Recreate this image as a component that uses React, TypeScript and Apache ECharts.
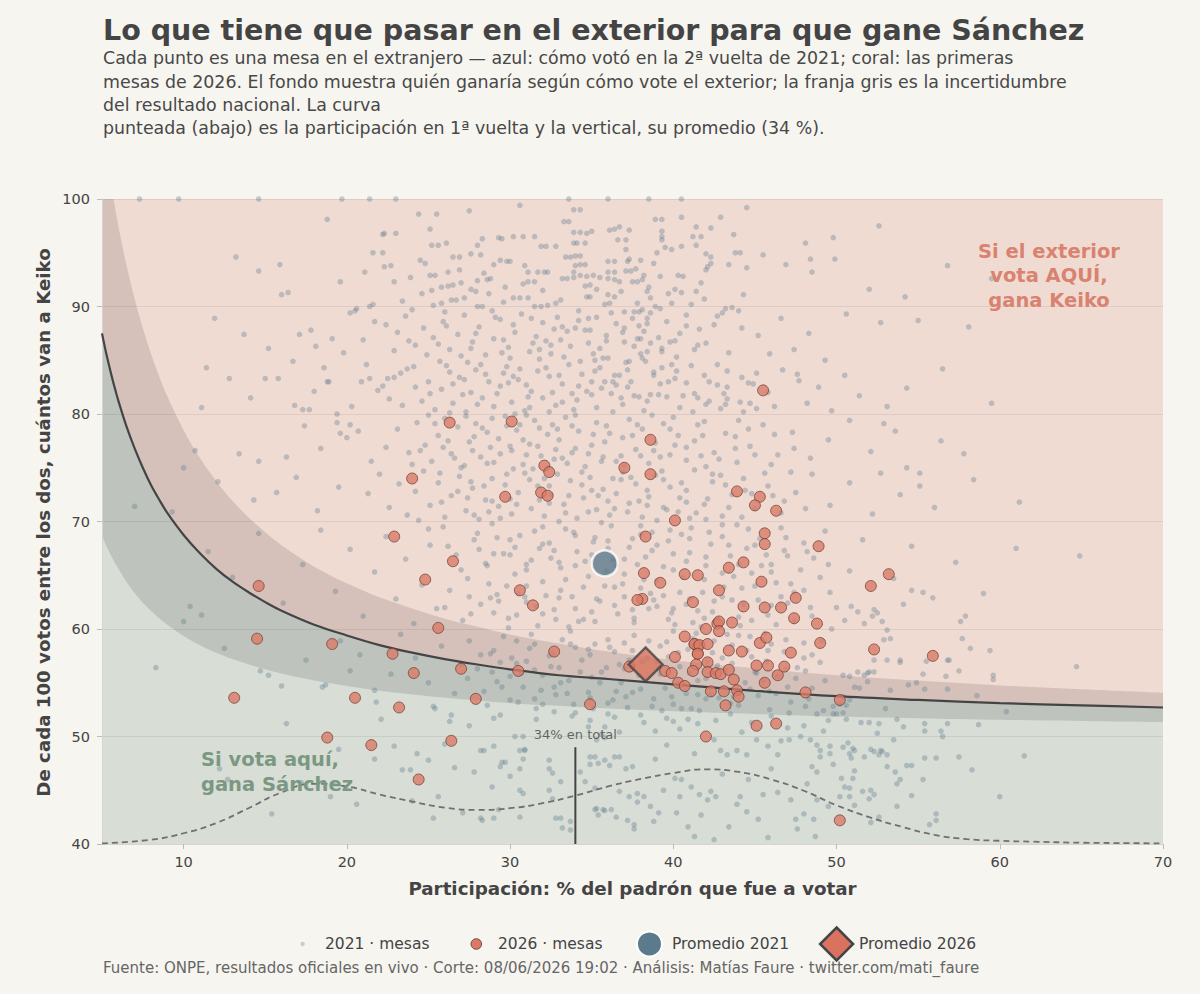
import React, { useEffect, useRef } from "react";
import * as echarts from "echarts";

// ---------- Datos ----------
const ejeX = [5, 5.25, 5.5, 5.75, 6, 6.5, 7, 7.5, 8, 8.5, 9, 10, 11, 12, 13, 14, 15, 16, 18, 20, 22, 24, 26, 28, 30, 33, 36, 40, 45, 50, 55, 60, 65, 70];
const umbral = [87.5, 85.7, 84.1, 82.6, 81.25, 78.85, 76.8, 75.0, 73.4, 72.05, 70.8, 68.75, 67.05, 65.6, 64.4, 63.4, 62.5, 61.7, 60.4, 59.4, 58.5, 57.8, 57.2, 56.7, 56.25, 55.7, 55.35, 54.85, 54.25, 53.75, 53.4, 53.1, 52.9, 52.7];
const bandaSup = [107, 104.3, 101.8, 99.6, 97.5, 93.85, 90.7, 88.0, 85.6, 83.5, 81.65, 78.5, 75.9, 73.75, 71.9, 70.35, 69.0, 67.8, 65.8, 64.25, 62.95, 61.9, 60.95, 60.2, 59.5, 58.65, 57.9, 57.1, 56.35, 55.7, 55.2, 54.75, 54.4, 54.07];
const bandaInf = [68.7, 67.8, 67.0, 66.25, 65.6, 64.4, 63.35, 62.45, 61.7, 61.0, 60.4, 59.35, 58.5, 57.8, 57.2, 56.7, 56.25, 55.85, 55.2, 54.7, 54.25, 53.9, 53.6, 53.35, 53.1, 52.85, 52.6, 52.35, 52.1, 51.85, 51.7, 51.55, 51.45, 51.35];

const partX = [5, 8, 10, 12, 14, 16, 18, 20, 22, 24, 26, 28, 30, 32, 34, 36, 38, 40, 42, 44, 46, 48, 50, 52, 54, 56, 58, 60, 62, 65, 70];
const partY = [40.06, 40.4, 41.0, 41.95, 43.35, 44.8, 45.6, 45.35, 44.6, 43.95, 43.38, 43.17, 43.33, 43.8, 44.5, 45.35, 46.05, 46.6, 46.95, 46.7, 46.0, 44.95, 43.6, 42.5, 41.6, 40.85, 40.45, 40.3, 40.22, 40.12, 40.06];
const participacionPromedio = 34;
const topeLineaPromedio = 49;

const promedio2021 = [35.8, 66.1];
const promedio2026 = [38.3, 56.7];

const mesas2021Alto = [
  [7.3,100],[9.7,100],[14.6,100],[19.7,100],[21.4,100],[23.0,100],[33.6,100],[36.0,100],[38.5,100],[40.5,100],
  [24.4,98.6],[25.5,98.6],[33.9,99.0],[34.3,99.0],[33.3,97.9],[33.6,97.9],[38.9,98.1],[39.3,98.1],[40.5,98.3],[42.9,98.3],[18.8,98.1],
  [25.1,97.2],[22.3,96.8],[23.0,96.8],[25.2,95.7],[25.6,95.7],[26.1,95.9],[33.9,96.9],[34.3,96.9],[34.7,96.8],[35.0,97.0],[36.1,97.1],[36.4,97.2],[36.7,97.4],[37.3,97.1],[39.3,97.0],[39.3,96.5],[39.3,96.2],[41.2,96.5],[41.4,97.4],[41.7,96.5],[42.3,97.3],[43.7,96.7],[48.1,95.9],[49.8,96.4],[28.0,95.7],[28.3,96.3],[29.3,96.4],[29.5,96.3],[30.2,96.5],[30.8,96.5],[31.5,96.5],[31.9,95.6],[32.2,95.6],[32.8,95.6],[33.9,95.9],[34.1,95.9],[34.6,95.9],[36.6,96.2],[37.1,96.2],[37.1,95.3],[39.5,95.5],[39.9,95.3],[40.5,95.6],[41.4,95.7],[22.2,96.7],[44.5,99.2],[52.6,97.5],[27.5,98.9],[30.6,99.4],
  [39.0,95.0],[42.0,94.9],[42.3,94.6],[43.8,95.0],[44.1,95.0],[45.5,94.8],[48.4,94.4],[48.5,93.2],[49.9,94.4],[46.9,93.9],[44.5,93.6],[43.4,93.9],[42.3,94.0],[42.0,93.4],[42.1,93.7],[41.7,92.2],[41.4,91.4],[40.3,92.9],[40.6,92.8],[40.1,91.6],[40.5,91.3],[39.2,92.8],[38.8,94.0],
  [38.2,92.9],[38.1,92.5],[37.8,92.3],[37.5,92.3],[37.1,93.3],[37.4,93.3],[37.7,93.5],[38.0,94.3],[38.5,91.8],[38.4,91.4],[38.6,90.8],
  [36.8,91.4],[36.0,91.1],[34.7,90.9],[34.9,90.9],[34.6,91.9],[34.9,92.0],
  [36.0,92.6],[36.4,92.5],[36.7,92.3],[36.0,93.2],[36.4,93.2],[36.0,94.2],[36.4,94.2],[37.2,94.2],[37.3,94.4],
  [34.3,92.9],[34.7,92.8],[35.1,92.9],[35.5,92.7],[33.9,92.7],[33.5,92.6],[33.2,92.6],
  [33.4,94.6],[33.7,94.6],[34.0,94.7],[34.3,94.7],[34.0,93.8],[34.3,93.9],[34.6,93.9],[33.9,93.2],
  [30.8,92.1],[31.1,92.3],[31.5,92.3],[31.1,93.2],[31.7,93.2],[32.1,93.2],[32.3,93.2],
  [29.4,94.3],[29.8,94.2],[30.0,94.2],[29.0,93.9],[28.2,94.8],[27.6,94.9],[26.9,94.6],[26.5,94.6],[24.5,94.3],[24.8,94.0],[22.3,93.7],[22.7,93.8],[22.9,92.3],[23.9,92.7],
  [25.1,92.9],[25.4,92.9],[26.2,93.2],[26.9,93.4],[25.8,91.8],[26.2,91.9],[26.5,92.0],[25.2,91.5],[28.0,92.4],[28.6,92.5],[28.8,92.6],[27.6,91.6],[27.9,91.4],[28.7,91.2],
  [30.2,90.8],[30.6,90.8],[31.1,90.8],[29.6,90.4],[25.3,90.1],[25.8,90.3],[26.4,90.6],[26.7,90.6],[27.2,90.8],[28.0,90.0],[28.3,90.0],[31.5,90.0],[31.9,90.0],[32.3,90.1],[32.8,90.3],[35.8,90.2],[36.1,90.3],[37.8,90.3],[37.0,89.5],[37.6,89.5],[37.9,89.5],[38.9,90.0],[39.9,90.3],[41.1,90.2],[44.3,91.1],
  [13.2,94.6],[14.6,93.3],[15.9,93.9],[16.0,91.1],[16.4,91.3],[19.6,92.3],[21.1,93.2],[21.6,95.0],[22.2,95.0],[56.8,93.8],[59.5,92.6],[52.0,91.6],[54.2,90.9],
  [38.1,89.7],[38.4,88.9],[38.4,88.4],[42.7,89.1],[43.0,89.4],[43.2,89.8],[43.6,89.9],[44.0,89.6],[44.2,88.0],[41.3,86.0],[42.0,86.6],[39.8,86.7],[39.3,86.1],[38.4,85.8],[38.0,85.6],[37.6,86.3],[37.8,87.0],[38.0,87.0],[38.2,87.7],
  [37.0,86.7],[35.5,86.1],[35.7,85.2],[35.1,85.6],[34.6,87.8],[34.9,87.8],[34.2,88.7],[34.0,88.0],[33.5,87.7],[43.4,85.7],[49.3,85.0],[39.3,85.8],[40.1,86.8],[38.6,86.6],[36.0,85.2],
  [13.7,87.4],[15.2,86.1],[17.1,87.4],[17.8,87.8],[18.1,86.3],[19.1,87.0],[20.5,89.6],[20.6,89.8],[21.4,90.0],[21.6,90.2],[20.2,89.4],
  [55.0,88.7],[58.1,88.1],[52.7,88.5],
  [22.4,88.3],[23.1,87.6],[23.6,89.1],[24.2,86.4],[24.7,88.0],[25.3,87.1],[25.9,88.6],[26.3,86.0],[26.8,87.4],[27.2,89.2],[27.7,86.7],[28.1,88.1],[28.5,85.5],[29.0,87.0],[29.4,88.8],[29.9,86.2],[30.3,87.6],[30.7,89.3],[31.2,85.8],[31.6,87.2],[32.0,88.5],[32.5,86.4],[32.9,89.0],[33.3,85.3],[22.9,85.9],[23.8,86.8],[24.9,85.5],[26.0,89.5],[27.0,85.4],[28.9,89.6],[30.0,85.2],[31.8,86.0],[32.7,87.9],[24.0,89.7],[25.6,86.5],[27.9,87.5],[29.6,86.9],[31.3,88.9],[33.1,86.9],[36.5,88.4],[35.3,89.0],[36.9,87.6],[39.6,88.6],[40.8,89.2],[41.6,87.9],[42.5,88.3],[45.2,87.3],[46.6,88.9],[47.4,86.0],[45.9,85.6],[48.3,87.5],[50.6,89.3],[19.8,85.7],[21.0,86.9],[21.7,88.6],[11.9,88.9]
];

const mesas2021MedioAlto = [
  [43.3,84.0],[42.7,84.6],[42.7,82.7],[43.3,82.5],[44.6,82.9],[44.9,82.8],[45.1,83.8],[46.2,80.7],[47.6,83.7],[47.7,83.1],[48.2,81.0],[44.1,81.1],[43.3,81.4],[43.1,81.9],[42.9,80.5],[44.7,81.0],[45.1,80.5],[44.3,80.2],[41.3,81.9],[41.5,81.5],[40.8,82.9],[40.1,83.3],[39.6,81.6],[39.1,81.8],[38.6,81.8],[37.9,81.6],[37.6,81.7],[38.4,81.2],[39.3,84.3],[38.8,83.6],[38.8,83.9],[37.2,84.1],[37.3,84.9],[36.4,83.6],[36.7,83.6],[36.3,83.0],[36.5,82.7],[35.5,84.3],[35.2,84.0],[35.8,83.0],[35.0,83.0],[35.0,81.8],[34.7,82.1],
  [54.3,82.4],[53.1,80.7],[52.9,79.1],[59.5,81.0],[56.4,77.5],[54.3,75.0],[55.1,74.5],[55.1,73.3],[52.7,74.5],
  [11.4,84.3],[12.8,83.3],[15.0,83.3],[15.8,83.3],[11.1,80.6],[10.7,76.6],[10.0,75.0],[7.0,71.4],[13.4,76.3],[14.6,75.6],[15.7,72.7],[16.3,76.0],[16.8,80.8],[17.3,80.4],[17.7,80.4],[16.7,84.9],[18.6,84.3],[18.8,83.0],[18.9,83.0],[19.4,80.0],[19.4,79.2],[19.6,78.2],[20.0,77.8],[20.2,79.0],[20.3,80.7],[20.9,83.0],[21.4,83.3],[21.9,82.2],[22.2,82.6],[22.5,83.3],[22.9,83.4],[23.3,83.8],[23.7,84.2],[24.1,84.4],
  [24.6,81.2],[25.0,83.0],[25.4,80.4],[25.8,82.3],[26.1,84.5],[26.5,81.0],[26.9,83.4],[27.3,80.2],[27.6,82.0],[27.9,84.1],[28.3,81.5],[28.7,83.0],[29.0,80.7],[29.4,82.6],[29.8,84.4],[30.1,81.1],[30.5,83.2],[30.9,80.3],[31.3,82.1],[31.7,84.0],[32.0,81.5],[32.4,83.5],[32.8,80.8],[33.2,82.8],[33.6,84.6],[34.1,81.3],[34.4,83.7],[24.2,82.5],[26.3,83.9],[28.0,80.9],[29.6,83.8],[31.0,82.7],[32.6,82.0],[33.9,80.4],[36.9,80.9],[37.4,83.0],[39.9,84.6],[40.4,80.6],[41.9,83.6],[42.2,81.2],[45.8,82.0],[46.7,84.1],[48.9,82.5],[49.7,80.3],[50.5,83.6],[51.4,81.7],[25.7,84.9],[27.1,81.8],[30.3,80.0],[23.4,80.8],[22.6,81.4],[21.2,84.6],[18.0,82.1],[14.1,81.5],[56.5,84.2],
  [23.1,78.6],[23.8,76.4],[24.3,79.2],[24.8,77.1],[25.2,75.6],[25.6,78.0],[26.0,79.6],[26.4,76.3],[26.8,78.8],[27.2,75.2],[27.5,77.4],[27.9,79.1],[28.2,76.0],[28.6,78.3],[29.0,75.5],[29.3,77.7],[29.7,79.8],[30.1,76.6],[30.4,78.5],[30.8,75.3],[31.2,77.2],[31.5,79.4],[31.9,76.1],[32.3,78.1],[32.7,75.8],[33.0,77.6],[33.4,79.7],[33.8,76.4],[34.2,78.4],[34.6,75.1],[35.0,77.1],[35.3,79.2],[35.7,76.0],[36.1,78.2],[36.5,75.6],[36.9,77.8],[37.3,79.5],[37.7,76.7],[38.1,78.6],[38.5,75.4],[38.9,77.3],[39.4,79.1],[39.8,76.2],[40.3,78.0],[40.8,75.7],[41.3,77.5],[41.9,79.3],[42.5,76.4],[43.2,78.2],[43.9,75.5],[44.7,77.0],[45.5,79.0],[46.4,76.2],[47.3,78.3],[48.4,75.9],[49.5,77.6],[50.8,79.4],[52.1,76.5],[53.6,78.4],[22.4,76.9],[21.5,75.6],[20.7,78.4],[18.4,76.8],[17.4,78.9],[25.0,79.9],[28.9,79.6],[31.0,79.9],[34.0,79.9],[37.0,75.2],[40.0,79.7],[42.0,75.1],[27.7,76.6],[30.0,77.0],[32.6,79.0],[35.9,78.9],[39.2,76.0],[24.0,75.3],[33.5,75.4],[44.0,79.4],[46.0,75.3],[57.8,76.3],
  [21.3,72.6],[22.0,74.4],[22.6,71.3],[23.2,73.5],[23.7,70.6],[24.2,72.8],[24.7,74.7],[25.1,71.5],[25.6,73.6],[26.0,70.4],[26.4,72.4],[26.9,74.2],[27.3,71.0],[27.7,73.1],[28.1,70.2],[28.5,72.0],[28.9,74.0],[29.3,71.4],[29.7,73.4],[30.1,70.7],[30.5,72.7],[30.9,74.5],[31.3,71.2],[31.7,73.3],[32.1,70.5],[32.5,72.5],[32.9,74.4],[33.3,71.6],[33.7,73.8],[34.1,70.3],[34.5,72.2],[34.9,74.1],[35.3,71.1],[35.7,73.0],[36.1,70.6],[36.5,72.6],[36.9,74.6],[37.3,71.7],[37.7,73.5],[38.1,70.4],[38.5,72.3],[38.9,74.3],[39.4,71.3],[39.8,73.2],[40.3,70.9],[40.8,72.9],[41.3,74.8],[41.9,71.6],[42.4,73.7],[43.0,70.5],[43.6,72.5],[44.3,74.0],[45.0,71.2],[45.8,73.3],[46.6,70.8],[47.5,72.7],[48.5,74.4],[49.6,71.5],[50.8,73.6],[52.2,70.7],[53.9,72.5],[56.0,71.3],[58.4,73.9],[61.2,71.8],[19.5,73.2],[18.2,71.0],[16.9,74.1],[14.3,72.0],[12.1,73.7],[9.3,70.9],[27.0,75.0],[30.2,74.9],[33.0,70.0],[36.3,74.0],[39.0,70.1],[42.1,72.1],[28.7,70.9],[31.8,72.0],[35.0,72.9],[37.9,71.9],[24.4,70.1],[44.8,72.6],[41.0,70.3]
];

const mesas2021Medio = [
  [11.5,67.2],[13.0,64.8],[14.6,68.9],[16.1,62.4],[17.3,66.0],[18.4,69.2],[19.3,63.5],[20.2,67.4],[21.0,61.2],[21.7,65.3],[22.4,68.6],[23.0,62.8],[23.6,66.5],[24.1,60.5],[24.6,64.1],[25.1,67.8],[25.5,61.9],[25.9,69.5],[26.3,63.6],[26.7,66.9],[27.1,60.8],[27.4,64.7],[27.8,68.3],[28.2,62.3],[28.5,66.1],[28.9,69.8],[29.2,63.2],[29.6,67.0],[29.9,61.0],[30.3,65.1],[30.6,68.7],[31.0,62.5],[31.3,66.4],[31.7,60.3],[32.0,64.4],[32.4,68.0],[32.7,61.8],[33.1,65.7],[33.4,69.3],[33.8,63.0],[34.1,67.2],[34.5,60.9],[34.8,64.9],[35.2,68.5],[35.5,62.6],[35.9,65.4],[36.2,69.6],[36.6,61.4],[36.9,64.2],[37.3,67.6],[37.6,60.6],[38.0,63.8],[38.3,66.7],[38.7,69.0],[39.0,62.1],[39.4,65.8],[39.7,68.2],[40.1,60.4],[40.4,63.4],[40.8,66.3],[41.1,69.4],[41.5,61.7],[41.9,64.6],[42.3,67.9],[42.7,60.9],[43.1,63.9],[43.5,66.8],[43.9,69.7],[44.3,62.3],[44.8,65.2],[45.3,68.4],[45.8,61.3],[46.3,64.3],[46.8,67.3],[47.4,60.7],[48.0,63.6],[48.6,66.6],[49.3,69.1],[50.0,62.0],[50.8,65.4],[51.6,68.3],[52.5,61.5],[53.5,64.7],[54.6,67.7],[55.9,62.9],[57.3,66.2],[59.0,63.3],[61.0,67.5],[64.9,66.8],
  [26.0,62.0],[27.0,65.5],[28.0,68.9],[29.0,61.5],[30.0,66.9],[31.0,64.0],[32.0,69.5],[33.0,62.9],[34.0,65.9],[35.0,61.6],[36.0,67.5],[37.0,63.0],[38.0,68.8],[39.0,64.5],[40.0,67.0],[41.0,62.8],[42.0,65.9],[43.0,68.6],[44.0,61.1],[45.0,64.0],[46.0,66.0],[47.0,62.4],[48.0,68.0],[49.0,64.8],[30.5,63.3],[32.5,66.6],[34.5,63.9],[36.5,65.9],[38.5,61.9],[40.5,68.8],[42.5,62.6],[44.5,67.5],[28.7,64.2],[33.6,60.2],[37.8,66.0],[41.7,60.2],[35.6,69.9],[39.9,61.5],[43.7,64.9],[31.8,67.5],[27.6,61.4],[46.6,69.4],
  [54.6,63.6],[55.3,63.4],[54.1,62.3],[57.6,60.7],[57.9,61.2],[50.9,62.1],[51.3,61.6],[52.3,61.8],[52.2,61.2],[10.4,62.1],[11.1,61.3],[10.0,60.7]
];

const mesas2021MedioBajo = [
  [57.7,59.1],[58.2,58.2],[59.4,58.0],[56.8,57.1],[56.9,57.1],[55.5,57.0],[53.9,57.1],[53.9,56.9],[57.5,56.1],[59.6,55.7],[59.6,55.3],[56.7,55.6],[55.3,55.8],[54.4,54.8],[54.9,55.0],[55.4,54.4],[56.8,54.4],[53.3,54.3],[58.6,53.8],[60.4,52.3],[58.7,51.1],[56.8,51.2],[56.4,50.5],[56.5,50.0],[55.4,51.2],[55.4,50.5],[54.1,50.9],[53.7,51.6],[53.0,52.6],[52.6,51.2],[52.0,51.3],[51.5,51.3],[52.5,50.3],[50.6,51.6],[50.4,52.2],[49.8,52.1],[50.0,52.1],[48.8,52.1],[49.2,52.4],[49.8,52.8],[50.2,53.0],[50.6,52.9],[50.8,53.4],[50.4,53.7],[51.1,54.6],[51.4,54.5],[51.9,55.1],[51.7,55.7],[52.0,56.0],[51.3,56.0],[50.8,55.6],[50.4,55.7],[52.3,56.0],[52.3,57.1],[51.9,55.9],[53.1,57.1],[52.9,59.0],[53.3,59.1],[52.8,60.7],[53.1,59.9],[51.7,60.5],[64.7,56.5],
  [39.6,51.7],[40.0,51.4],[40.9,51.6],[41.5,51.2],[47.8,50.0],
  [8.3,56.4],[14.7,56.1],[15.2,55.7],[16.0,54.7],[17.5,57.1],[20.2,56.1],[20.8,57.6],[16.3,51.2],[18.5,54.6],[18.7,54.8],[21.7,54.3],[21.8,53.2],[22.1,51.6],[25.3,52.8],[25.4,52.6],[26.4,52.0],[26.3,51.4],[29.0,51.7],[29.4,52.0],[30.3,50.0],[30.8,50.0],[34.8,50.9],[34.9,51.5],[35.8,50.9],[36.4,51.8],[36.7,50.4],
  [27.5,58.9],[28.0,56.3],[28.4,54.2],[28.8,57.7],[29.2,55.1],[29.6,59.3],[30.0,53.4],[30.4,56.8],[30.8,54.6],[31.2,58.2],[31.6,52.6],[32.0,55.7],[32.4,57.5],[32.8,53.9],[33.2,59.0],[33.6,55.2],[34.0,52.2],[34.4,57.1],[34.8,54.1],[35.2,58.6],[35.6,56.0],[36.0,53.1],[36.4,57.9],[36.8,55.0],[37.2,52.7],[37.6,59.4],[38.0,54.4],[38.4,57.3],[38.8,53.5],[39.2,55.8],[39.6,58.8],[40.0,53.0],[40.4,56.5],[40.8,54.0],[41.2,59.1],[41.6,52.4],[42.0,55.4],[42.4,57.8],[42.8,53.6],[43.2,56.2],[43.6,58.5],[44.0,52.9],[44.4,55.0],[44.8,57.4],[45.2,53.8],[45.6,59.6],[46.0,51.9],[46.4,55.6],[46.8,57.9],[47.2,53.2],[47.6,56.4],[48.0,58.7],[48.5,54.5],[49.0,56.9],[49.5,51.5],[24.2,57.3],[25.0,55.0],[25.8,58.4],[26.6,54.0],[27.0,56.7],[23.3,59.5],[22.7,55.8],[19.6,58.9],[12.5,58.2],
  [29.0,58.0],[30.0,55.6],[31.0,57.0],[32.0,53.0],[33.0,56.4],[34.0,58.3],[35.0,55.5],[36.0,59.0],[37.0,56.3],[38.0,52.0],[39.0,57.0],[40.0,59.8],[41.0,55.9],[42.0,53.5],[43.0,57.3],[44.0,59.4],[45.0,56.0],[46.0,58.6],[47.0,54.6],[48.0,51.0],[33.5,54.0],[36.5,54.2],[39.5,54.5],[42.5,55.9],[45.5,55.2],[31.5,56.2],[37.5,58.0],[43.5,52.1],[48.5,57.6],[40.5,52.6]
];

const mesas2021Bajo = [
  [12.2,47.0],[12.7,46.0],[15.4,42.8],[19.0,44.4],[20.6,43.7],[22.9,49.1],[23.4,46.9],[23.9,46.9],[24.3,48.4],[25.0,47.8],[26.6,47.1],[25.6,44.4],[25.3,42.4],[27.1,42.9],[28.3,42.2],[29.0,42.4],[27.8,46.7],[28.2,48.7],[28.4,48.7],[29.0,49.1],[29.5,47.6],[29.7,47.6],[30.0,46.3],[30.9,48.7],[30.8,47.9],[32.4,47.8],[32.4,47.0],[32.8,42.4],[33.7,42.1],[33.7,41.3],[33.1,45.8],[34.3,46.7],[35.4,47.5],[35.8,47.8],[36.1,47.3],[35.2,45.2],[36.7,44.9],[37.3,44.4],[35.3,43.3],[35.8,43.1],[36.5,42.5],[37.6,41.4],
  [29.4,47.2],[30.6,48.7],[30.9,48.8],[30.6,47.0],[28.9,45.3],[30.6,45.0],[30.8,44.7],[32.6,46.6],[32.4,45.0],[32.6,44.2],[33.1,42.4],[33.2,41.5],[30.6,42.5],[29.3,43.2],[28.2,42.4],[34.6,45.8],[35.2,43.2],[35.4,42.7],[35.7,43.2],[36.2,43.2],[34.9,48.1],[35.2,48.1],[34.9,47.4],[35.3,49.7],[35.8,49.9],[36.4,48.1],[36.7,48.1],[37.1,47.0],[37.5,47.2],[37.8,44.7],[38.2,44.4],[37.8,43.9],[37.2,42.2],[37.6,41.8],[38.8,42.1],[39.1,42.9],[38.6,43.5],[40.1,46.1],[40.5,46.0],[41.1,45.3],[40.4,44.4],[40.2,42.9],[40.9,41.6],[41.3,40.7],[42.5,40.4],[41.7,42.7],[41.6,44.6],[42.3,44.9],[42.1,44.1],[42.6,44.4],[43.9,43.7],[44.1,44.4],[44.5,43.0],[45.2,42.3],[45.5,44.6],[46.4,44.8],[47.2,44.1],[47.5,42.3],[47.6,41.4],[48.6,42.3],[48.8,44.1],[49.5,43.5],[50.8,44.4],[51.1,43.6],[52.1,45.0],[52.6,42.5],[53.7,43.5],[42.5,49.7],[42.9,48.7],[43.3,48.3],[43.9,48.7],[44.5,48.3],[45.1,49.7],[45.8,49.1],[46.4,48.3],[47.1,49.7],[48.4,49.7],[49.0,48.7],[49.6,49.1],[50.7,49.4],[51.1,48.7],[51.7,48.1],[52.7,48.7],[53.5,49.7],
  [54.6,47.3],[54.3,47.3],[53.1,47.2],[53.6,46.7],[56.1,48.0],[55.4,48.0],[57.5,48.1],[55.3,46.0],[54.6,44.5],[53.7,45.6],[53.9,46.0],[60.0,44.4],[56.1,42.8],[56.1,42.2],[55.7,41.8],[52.1,42.0],[52.3,44.6],[52.0,44.2],[51.6,44.9],[51.0,46.1],[50.8,45.2],[50.9,48.0],[51.1,46.8],[50.8,48.4],[50.4,49.0],[51.0,48.9],[52.3,48.6],[52.1,48.8],[50.3,46.1],[50.2,44.4],[50.5,45.3],[49.8,47.4],[49.6,48.4],[49.0,48.1],[48.8,49.2],[48.5,47.2],[48.8,46.7],[48.2,45.6],[48.0,42.8],[48.7,40.7],[52.8,48.6],[52.6,48.3],[53.1,48.3],
  [38.9,47.9],[39.6,49.2],[41.3,48.4],[43.0,46.5],[44.6,46.0],[46.0,47.0],[39.4,45.0],[43.4,41.6],[45.8,40.6],[58.3,46.9],[61.5,48.2],[21.7,47.9],[19.5,48.8],[17.2,45.7],[24.0,44.0],[26.0,49.3]
];

const mesas2021Nucleo = [
  [33.2,88.1],[34.8,86.6],[36.2,89.4],[37.1,84.8],[35.6,82.4],[34.3,84.9],[33.0,83.6],[31.8,85.1],[30.6,84.2],[29.5,85.7],[32.2,86.8],[35.9,87.3],[37.9,88.2],[39.1,87.1],[40.2,85.3],[41.1,84.5],[39.7,83.0],[38.3,84.9],[36.8,81.5],[35.3,80.6],[33.8,81.9],[32.4,80.2],[31.1,81.6],[29.9,82.9],[28.5,83.7],[27.4,84.8],[26.5,82.8],[40.6,81.7],[42.0,80.9],[41.5,79.0],[40.1,77.1],[38.7,79.9],[37.5,78.0],[36.3,80.2],[35.1,78.1],[34.0,76.8],[32.9,78.6],[31.7,77.0],[30.6,79.0],[29.4,76.3],[28.3,78.7],[27.3,79.8],[26.2,77.5],[25.4,79.1],[39.3,74.7],[40.5,73.6],[41.7,76.1],[42.9,74.3],[43.8,76.8],[44.6,78.6],[38.0,76.1],[36.8,73.9],[35.6,75.6],[34.4,73.4],[33.2,75.9],[32.1,74.0],[31.0,76.2],[29.8,74.4],[28.6,75.4],[27.6,73.7],[26.6,75.9],[25.7,74.5],[36.0,71.9],[37.2,70.9],[38.4,72.9],[39.6,71.1],[40.8,71.8],[42.0,70.2],[43.2,73.4],[44.2,70.4],[34.8,70.9],[33.6,72.4],[32.4,71.7],[31.2,73.9],[30.0,72.1],[28.9,71.9],[27.8,70.6],[26.8,72.8],[25.8,71.8],[46.1,72.4],[47.2,74.6],[48.1,71.2],
  [35.1,68.1],[36.3,66.4],[37.5,68.4],[38.7,67.3],[39.8,69.2],[41.0,67.1],[42.2,69.0],[43.4,67.8],[44.6,69.3],[45.7,66.9],[46.9,68.5],[33.9,69.0],[32.7,67.3],[31.5,69.1],[30.3,67.6],[29.2,68.5],[28.1,67.4],[34.6,66.3],[33.4,64.6],[35.8,64.0],[37.0,65.1],[38.2,64.6],[39.4,63.1],[40.6,64.8],[41.8,63.4],[43.0,65.2],[44.2,63.8],[45.4,65.9],[46.6,63.0],[47.8,65.5],[32.2,63.1],[31.0,65.5],[29.8,64.0],[28.6,65.9],[27.5,63.0],[36.4,62.2],[37.6,61.0],[38.8,62.7],[40.0,61.9],[41.2,60.6],[42.4,61.6],[43.6,62.7],[44.8,60.8],[46.0,62.2],[47.2,64.2],[48.4,62.0],[35.2,60.7],[34.0,61.9],[32.8,60.9],[31.6,62.1],[30.4,61.3],[29.3,62.6],[49.6,63.4],[50.5,60.8],
  [36.1,58.3],[37.3,57.1],[38.5,58.9],[39.7,57.4],[40.9,58.1],[42.1,57.0],[43.3,59.5],[44.5,58.0],[45.7,57.0],[46.9,59.0],[48.1,56.1],[34.9,57.6],[33.7,58.6],[32.5,56.5],[31.3,59.5],[30.1,57.3],[28.9,56.0],[35.5,55.0],[36.7,56.7],[37.9,55.7],[39.1,56.3],[40.3,54.9],[41.5,55.2],[42.7,56.6],[43.9,54.2],[45.1,55.9],[46.3,54.0],[47.5,55.4],[34.3,56.0],[33.1,55.0],[31.9,54.3],[30.7,55.9],[29.5,54.6],[36.3,53.4],[37.5,54.1],[38.7,52.8],[39.9,53.7],[41.1,52.6],[42.3,53.9],[43.5,53.1],[44.7,54.4],[45.9,52.5],[47.1,52.2],[35.1,52.6],[33.9,53.0],[32.7,52.3],[31.5,53.5],[48.3,53.5],[49.3,55.2],[27.4,55.4],[28.2,57.6]
];

const mesas2021Denso = [
  [28.4,93.1],[29.7,91.8],[30.9,93.8],[32.0,91.5],[33.1,90.6],[34.2,89.6],[35.3,91.6],[36.4,90.9],[37.5,88.9],[38.6,89.4],[39.7,91.2],[40.8,88.2],[41.9,90.7],[29.1,89.0],[30.2,88.3],[31.4,86.6],[32.5,85.6],[33.7,86.3],[34.8,88.9],[35.9,86.8],[37.0,88.0],[38.1,85.2],[39.2,89.8],[40.4,87.5],[41.5,86.4],[27.0,92.2],[26.1,88.2],[27.6,86.1],[24.6,91.2],[23.4,90.5],
  [27.2,83.2],[28.2,84.6],[29.2,81.9],[30.2,83.5],[31.2,80.6],[32.2,84.3],[33.2,81.1],[34.2,82.6],[35.2,85.0],[36.2,81.9],[37.2,82.5],[38.2,80.3],[39.2,82.8],[40.2,84.0],[41.2,80.2],[42.2,83.0],[43.2,80.9],[44.2,83.4],[26.3,80.1],[25.1,81.9],[27.8,77.9],[28.8,76.9],[29.8,78.9],[30.8,77.6],[31.8,78.7],[32.8,76.7],[33.8,78.9],[34.8,76.3],[35.8,77.4],[36.8,76.1],[37.8,79.0],[38.8,76.6],[39.8,78.6],[40.8,76.9],[41.8,78.0],[42.8,75.8],[43.8,77.9],[45.0,76.2],[46.2,78.1],[47.4,76.8],[24.5,76.6],[25.9,76.9],
  [27.4,72.2],[28.4,73.3],[29.4,70.3],[30.4,71.6],[31.4,74.9],[32.4,73.3],[33.4,70.8],[34.4,74.6],[35.4,72.4],[36.4,71.2],[37.4,74.1],[38.4,71.5],[39.4,73.9],[40.4,72.2],[41.4,70.8],[42.4,74.4],[43.4,71.3],[44.4,72.9],[45.6,74.5],[46.8,71.9],[29.0,67.0],[30.0,68.3],[31.0,66.0],[32.0,67.9],[33.0,66.2],[34.0,68.7],[35.0,66.9],[36.0,68.2],[37.0,66.5],[38.0,69.6],[39.0,67.8],[40.0,65.5],[41.0,68.4],[42.0,66.7],[43.0,69.7],[44.0,66.0],[45.0,67.8],[46.0,65.3],[47.0,66.8],[48.2,67.2],[49.5,66.0],[26.2,67.7],[25.0,69.3],
  [30.9,63.0],[32.0,61.4],[33.1,63.6],[34.2,60.7],[35.3,62.8],[36.4,63.9],[37.5,61.8],[38.6,63.3],[39.7,60.9],[40.8,62.3],[41.9,61.0],[43.0,63.0],[44.1,60.3],[45.2,62.7],[46.3,60.4],[47.4,63.4],[48.5,61.2],[49.7,60.0],[29.9,60.1],[28.8,62.9],[31.5,58.6],[32.6,57.7],[33.7,59.8],[34.8,58.1],[35.9,56.4],[37.0,58.7],[38.1,57.0],[39.2,58.4],[40.3,57.8],[41.4,59.6],[42.5,58.9],[43.6,56.8],[44.7,59.3],[45.8,58.0],[46.9,56.3],[48.0,57.3],[49.1,58.9],[30.4,58.9],[29.4,56.9],
  [30.5,53.2],[31.6,51.6],[32.7,54.6],[33.8,51.9],[34.9,53.6],[36.0,52.1],[37.1,53.7],[38.2,51.3],[39.3,52.4],[40.4,50.7],[41.5,53.9],[42.6,51.5],[43.7,53.7],[44.8,51.3],[45.9,54.2],[47.0,50.8],[48.1,52.8],[49.2,50.5],[28.6,52.9],[27.5,51.0],[35.6,50.2],[38.9,50.5],[44.2,50.4],[46.6,49.6]
];

const mesas2026 = [
  [14.6,64.0],[14.5,59.1],[13.1,53.6],[19.1,58.6],[22.8,57.7],[25.6,60.1],[24.1,55.9],[27.0,56.3],[30.5,56.1],[31.4,62.2],[32.7,57.9],[20.5,53.6],[23.2,52.7],[27.9,53.5],[34.9,53.0],[18.8,49.9],[21.5,49.2],[26.4,49.6],[24.4,46.0],[37.3,56.5],
  [26.3,79.2],[30.1,79.3],[24.0,74.0],[32.1,75.2],[32.4,74.6],[31.9,72.7],[32.3,72.4],[29.7,72.3],[37.0,75.0],[38.6,77.6],[38.6,74.4],[40.1,70.1],[38.3,68.6],[22.9,68.6],[26.5,66.3],[24.8,64.6],[30.6,63.6],[38.2,65.2],[39.2,64.3],[40.7,65.1],[41.5,65.0],[41.2,62.5],[38.1,62.8],[37.8,62.7],
  [40.7,59.3],[41.3,58.6],[41.5,58.4],[40.1,57.4],[41.5,57.7],[39.5,56.1],[39.9,55.9],[40.3,55.0],[40.7,54.7],[41.4,56.7],[41.2,56.1],
  [45.5,82.2],[43.9,72.8],[45.3,72.3],[45.0,71.5],[46.3,71.0],[45.6,68.9],[45.6,67.9],[48.9,67.7],[43.4,65.7],[44.3,66.2],[45.4,64.4],[42.8,63.6],[47.5,62.9],[44.3,62.1],[45.6,62.0],[46.6,62.0],[47.4,61.0],[48.8,60.5],[52.1,64.0],[53.2,65.1],[42.0,60.0],[42.7,60.5],[42.8,60.7],[43.6,60.6],[42.8,59.8],[41.3,58.6],[41.6,58.5],[42.1,58.6],[41.5,57.7],[43.4,58.0],[44.2,57.9],[45.3,58.7],[45.7,59.2],[47.2,57.8],[49.0,58.7],[52.3,58.1],[55.9,57.5],[42.1,56.9],[42.1,56.0],[42.6,55.9],[42.9,55.8],[43.4,56.2],[43.7,55.3],[45.1,56.6],[45.8,56.6],[46.8,56.5],[46.4,55.7],[45.6,55.0],[42.3,54.2],[43.1,54.2],[43.9,54.3],[44.0,53.7],[43.2,52.9],[48.1,54.1],[50.2,53.4],[45.1,51.0],[46.3,51.2],[42.0,50.0],[50.2,42.2]
];

const xTicks = [10, 20, 30, 40, 50, 60, 70];

const titulo = "Lo que tiene que pasar en el exterior para que gane Sánchez";
const subtitulo = [
  "Cada punto es una mesa en el extranjero — azul: cómo votó en la 2ª vuelta de 2021; coral: las primeras",
  "mesas de 2026. El fondo muestra quién ganaría según cómo vote el exterior; la franja gris es la incertidumbre",
  "del resultado nacional. La curva",
  "punteada (abajo) es la participación en 1ª vuelta y la vertical, su promedio (34 %).",
];
const fuente = "Fuente: ONPE, resultados oficiales en vivo · Corte: 08/06/2026 19:02 · Análisis: Matías Faure · twitter.com/mati_faure";

const FONT = "DejaVu Sans";

export default function App() {
  const ref = useRef<HTMLDivElement>(null);

  useEffect(() => {
    if (!ref.current) return;
    const chart = echarts.init(ref.current, null, { renderer: "svg" });
    const zip = (xs: number[], ys: number[]) => xs.map((x, i) => [x, ys[i]]);
    const mesas2021 = [...mesas2021Alto, ...mesas2021MedioAlto, ...mesas2021Medio, ...mesas2021MedioBajo, ...mesas2021Bajo, ...mesas2021Nucleo, ...mesas2021Denso];
    const bgLine = { width: 0, opacity: 0 };
    const smooth = 0.35;

    const txt = (text: string, x: number, y: number, size: number, color: string, weight = "normal", align = "left", extra: any = {}) => ({
      type: "text",
      x,
      y,
      silent: true,
      ...extra,
      style: { text, fill: color, fontSize: size, fontWeight: weight, fontFamily: FONT, align, verticalAlign: "middle" },
    });

    const option: any = {
      animation: false,
      backgroundColor: "#f7f5f0",
      textStyle: { fontFamily: FONT },
      grid: { left: 102, right: 37, top: 199, bottom: 150, show: true, backgroundColor: "#f0dbd3", borderWidth: 0 },
      xAxis: {
        type: "value",
        min: 5,
        max: 70,
        z: 2,
        axisLine: { show: true, lineStyle: { color: "#d4d4d4", width: 1 } },
        axisTick: { show: true, customValues: xTicks, length: 5, lineStyle: { color: "#bbbbbb" } },
        axisLabel: { customValues: xTicks, color: "#444", fontSize: 14.5, margin: 10, fontFamily: FONT },
        splitLine: { show: false },
      },
      yAxis: {
        type: "value",
        min: 40,
        max: 100,
        interval: 10,
        z: 2,
        axisLine: { show: true, lineStyle: { color: "#d4d4d4", width: 1 } },
        axisTick: { show: true, length: 5, lineStyle: { color: "#bbbbbb" } },
        axisLabel: { color: "#444", fontSize: 14.5, margin: 12, fontFamily: FONT },
        splitLine: { show: true, lineStyle: { color: "rgba(0,0,0,0.07)", width: 1 } },
      },
      series: [
        { type: "line", name: "franja alta", data: zip(ejeX, bandaSup), smooth, symbol: "none", lineStyle: bgLine, areaStyle: { color: "#d5c1ba", opacity: 1, origin: "start" }, z: 1, silent: true },
        { type: "line", name: "franja baja", data: zip(ejeX, umbral), smooth, symbol: "none", lineStyle: bgLine, areaStyle: { color: "#bec4bd", opacity: 1, origin: "start" }, z: 1, silent: true },
        { type: "line", name: "gana Sánchez", data: zip(ejeX, bandaInf), smooth, symbol: "none", lineStyle: bgLine, areaStyle: { color: "#d8ddd6", opacity: 1, origin: "start" }, z: 1, silent: true },
        { type: "scatter", name: "2021 · mesas", data: mesas2021, symbolSize: 5.6, itemStyle: { color: "rgba(88,118,136,0.42)" }, z: 4, silent: true },
        { type: "line", name: "umbral", data: zip(ejeX, umbral), smooth, symbol: "none", lineStyle: { color: "#444", width: 2.2 }, z: 5, silent: true },
        { type: "line", name: "participación", data: zip(partX, partY), smooth: true, symbol: "none", lineStyle: { color: "#707070", width: 1.8, type: [6, 4] }, z: 5, silent: true },
        { type: "line", name: "promedio participación", data: [[participacionPromedio, 40], [participacionPromedio, topeLineaPromedio]], symbol: "none", lineStyle: { color: "#444", width: 2 }, z: 5, silent: true },
        {
          type: "scatter",
          name: "etiqueta",
          data: [[participacionPromedio, topeLineaPromedio]],
          symbolSize: 1,
          itemStyle: { color: "rgba(0,0,0,0)" },
          label: { show: true, position: "top", distance: 6, formatter: "34% en total", color: "#444", fontSize: 13, fontFamily: FONT },
          z: 5,
          silent: true,
        },
        { type: "scatter", name: "2026 · mesas", data: mesas2026, symbolSize: 11, itemStyle: { color: "#d97a68", borderColor: "#6b3a31", borderWidth: 0.9 }, z: 6, silent: true },
        { type: "scatter", name: "Promedio 2021", data: [promedio2021], symbolSize: 26, itemStyle: { color: "#5b7b8c", borderColor: "#ffffff", borderWidth: 2.5 }, z: 7, silent: true },
        { type: "scatter", name: "Promedio 2026", data: [promedio2026], symbol: "diamond", symbolSize: 34, itemStyle: { color: "#d9735f", borderColor: "#444", borderWidth: 2.5 }, z: 7, silent: true },
      ],
      graphic: [
        txt(titulo, 103, 30, 28.5, "#444", "bold"),
        {
          type: "text",
          x: 103,
          y: 46.6,
          silent: true,
          style: { text: subtitulo.join("\n"), fill: "#484848", fontSize: 17.4, fontFamily: FONT, lineHeight: 23.4, align: "left", verticalAlign: "top" },
        },
        {
          type: "text",
          x: 1049,
          y: 275.5,
          silent: true,
          z: 10,
          style: { text: "Si el exterior\nvota AQUÍ,\ngana Keiko", fill: "#d9826f", fontSize: 19.5, fontWeight: "bold", fontFamily: FONT, lineHeight: 24.5, align: "center", verticalAlign: "middle" },
        },
        {
          type: "text",
          x: 201,
          y: 772,
          silent: true,
          z: 10,
          style: { text: "Si vota aquí,\ngana Sánchez", fill: "#7b9882", fontSize: 19.5, fontWeight: "bold", fontFamily: FONT, lineHeight: 25.5, align: "left", verticalAlign: "middle" },
        },
        txt("Participación: % del padrón que fue a votar", 632.5, 888, 18.3, "#444", "bold", "center"),
        txt("De cada 100 votos entre los dos, cuántos van a Keiko", 43, 522.5, 18.2, "#444", "bold", "center", { rotation: Math.PI / 2 }),
        { type: "circle", silent: true, shape: { cx: 302.6, cy: 944, r: 2.2 }, style: { fill: "#c9cdca" } },
        txt("2021 · mesas", 325, 944, 15.5, "#444"),
        { type: "circle", silent: true, shape: { cx: 476.3, cy: 944, r: 5.3 }, style: { fill: "#d97a68", stroke: "#6b3a31", lineWidth: 0.9 } },
        txt("2026 · mesas", 498, 944, 15.5, "#444"),
        { type: "circle", silent: true, shape: { cx: 649.5, cy: 944, r: 12.5 }, style: { fill: "#5b7b8c", stroke: "#ffffff", lineWidth: 2 } },
        txt("Promedio 2021", 672, 944, 15.5, "#444"),
        { type: "polygon", silent: true, shape: { points: [[836.6, 927.5], [853.1, 944], [836.6, 960.5], [820.1, 944]] }, style: { fill: "#d9735f", stroke: "#444", lineWidth: 2.5 } },
        txt("Promedio 2026", 859, 944, 15.5, "#444"),
        txt(fuente, 103, 967.5, 15, "#666"),
      ],
    };

    chart.setOption(option);
    return () => chart.dispose();
  }, []);

  return <div ref={ref} style={{ position: "absolute", left: 0, top: 0, width: 1200, height: 994 }} />;
}
